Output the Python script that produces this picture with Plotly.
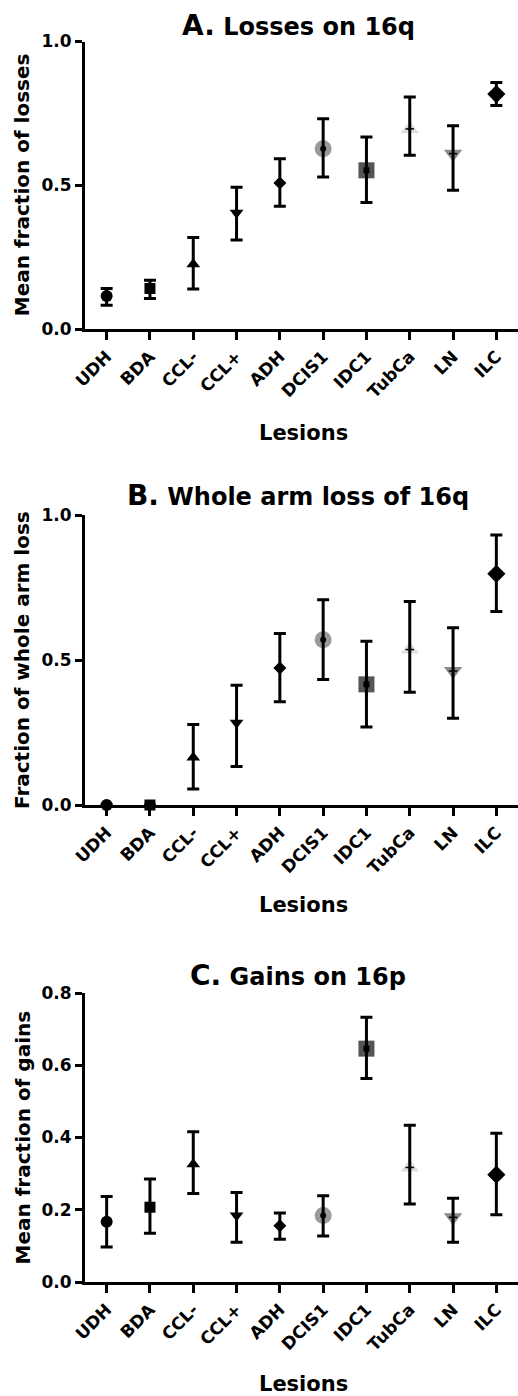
import plotly.graph_objects as go
from plotly.subplots import make_subplots

lesions = ["UDH", "BDA", "CCL-", "CCL+", "ADH", "DCIS1", "IDC1", "TubCa", "LN", "ILC"]

loss_mean = [0.115, 0.141, 0.225, 0.404, 0.508, 0.627, 0.552, 0.696, 0.610, 0.817]
loss_upper = [0.141, 0.170, 0.318, 0.493, 0.592, 0.731, 0.668, 0.807, 0.707, 0.857]
loss_lower = [0.083, 0.106, 0.139, 0.310, 0.427, 0.529, 0.440, 0.604, 0.483, 0.777]

whole_mean = [0.0, 0.0, 0.164, 0.284, 0.472, 0.570, 0.416, 0.536, 0.462, 0.797]
whole_upper = [0.0, 0.0, 0.278, 0.413, 0.591, 0.708, 0.565, 0.702, 0.611, 0.931]
whole_lower = [0.0, 0.0, 0.055, 0.133, 0.356, 0.433, 0.269, 0.389, 0.299, 0.667]

gain_mean = [0.167, 0.207, 0.326, 0.184, 0.156, 0.184, 0.646, 0.317, 0.179, 0.297]
gain_upper = [0.237, 0.285, 0.416, 0.248, 0.191, 0.239, 0.733, 0.434, 0.232, 0.412]
gain_lower = [0.097, 0.135, 0.245, 0.110, 0.118, 0.127, 0.563, 0.216, 0.110, 0.186]

symbols = ["circle", "square", "triangle-up", "triangle-down", "diamond",
           "circle", "square", "triangle-up", "triangle-down", "diamond"]
colors = ["black", "black", "black", "black", "black",
          "#9a9a9a", "#555555", "#dedede", "#8a8a8a", "black"]
sizes = [12, 11, 12, 12, 10, 17, 16, 16, 16, 14]

inner_idx = [5, 6]
inner_symbols = ["circle", "square"]
dash_idx = [7, 8]

panel_titles = ["<span style='font-size:28px'>A.</span> Losses on 16q",
                "<span style='font-size:28px'>B.</span> Whole arm loss of 16q",
                "<span style='font-size:28px'>C.</span> Gains on 16p"]
y_titles = ["Mean fraction of losses", "Fraction of whole arm loss", "Mean fraction of gains"]
x_title = "Lesions"

W, H = 518, 1396
FONT = "DejaVu Sans"

fig = make_subplots(rows=3, cols=1)

panels = [(loss_mean, loss_upper, loss_lower, [0, 1.0], 0.5),
          (whole_mean, whole_upper, whole_lower, [0, 1.0], 0.5),
          (gain_mean, gain_upper, gain_lower, [0, 0.8], 0.2)]

# pixel geometry of plot areas (top, bottom)
ypix = [(41.5, 329), (515, 805), (993, 1282)]
title_y = [26, 496, 975]
xtitle_y = [433, 905, 1384]

for r, (m, up, lo, rng, dt) in enumerate(panels, start=1):
    fig.add_trace(go.Scatter(
        x=lesions, y=m, mode="markers", cliponaxis=False, showlegend=False,
        marker=dict(symbol=symbols, color=colors, size=sizes, opacity=1,
                    line=dict(width=0))),
        row=r, col=1)
    fig.add_trace(go.Scatter(
        x=lesions, y=m, mode="markers", cliponaxis=False, showlegend=False,
        marker=dict(color="rgba(0,0,0,0)", size=1),
        error_y=dict(type="data", symmetric=False,
                     array=[u - v for u, v in zip(up, m)],
                     arrayminus=[v - l for v, l in zip(m, lo)],
                     color="black", thickness=3, width=6)),
        row=r, col=1)
    fig.add_trace(go.Scatter(
        x=[lesions[i] for i in inner_idx], y=[m[i] for i in inner_idx],
        mode="markers", cliponaxis=False, showlegend=False,
        marker=dict(symbol=inner_symbols, color="black", size=6, opacity=1)),
        row=r, col=1)
    fig.add_trace(go.Scatter(
        x=[lesions[i] for i in dash_idx], y=[m[i] for i in dash_idx],
        mode="markers", cliponaxis=False, showlegend=False,
        marker=dict(symbol="line-ew", size=6, opacity=1,
                    line=dict(color="black", width=1.5))),
        row=r, col=1)

    top, bot = ypix[r - 1]
    fig.update_xaxes(row=r, col=1, domain=[85 / W, 1], range=[-0.5, 9.5],
                     automargin=False,
                     showline=True, linewidth=3, linecolor="black",
                     ticks="outside", ticklen=8, tickwidth=3, tickcolor="black",
                     tickangle=-45, tickfont=dict(size=17, color="black"),
                     showgrid=False, zeroline=False)
    fig.update_yaxes(row=r, col=1, domain=[1 - bot / H, 1 - top / H], range=rng,
                     automargin=False,
                     dtick=dt, tick0=0, tickformat=".1f",
                     showline=True, linewidth=3, linecolor="black",
                     ticks="outside", ticklen=7, tickwidth=3, tickcolor="black",
                     tickfont=dict(size=17, color="black"),
                     showgrid=False, zeroline=False)

    fig.add_annotation(text=panel_titles[r - 1], x=298 / W, y=1 - title_y[r - 1] / H,
                       xref="paper", yref="paper", showarrow=False,
                       xanchor="center", yanchor="middle",
                       font=dict(size=24, color="black"))
    fig.add_annotation(text=x_title, x=303 / W, y=1 - xtitle_y[r - 1] / H,
                       xref="paper", yref="paper", showarrow=False,
                       xanchor="center", yanchor="middle",
                       font=dict(size=21, color="black"))
    fig.add_annotation(text=y_titles[r - 1], x=22 / W, y=1 - (top + bot) / 2 / H,
                       xref="paper", yref="paper", showarrow=False, textangle=-90,
                       xanchor="center", yanchor="middle",
                       font=dict(size=20, color="black"))

fig.update_layout(width=W, height=H, margin=dict(l=0, r=0, t=0, b=0, pad=0),
                  template="none", hovermode=False,
                  plot_bgcolor="white", paper_bgcolor="white",
                  font=dict(family=FONT, weight="bold", color="black"))

fig.write_html("out.html", config={"displayModeBar": False, "staticPlot": True},
               post_script="document.body.style.margin='0px';document.body.style.overflow='hidden';")
